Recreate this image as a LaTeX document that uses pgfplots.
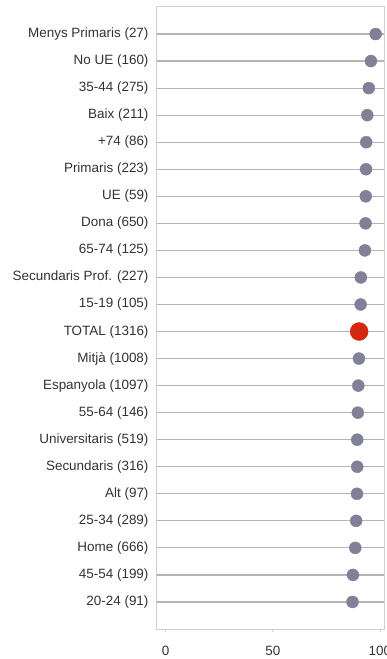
\documentclass[border=0pt]{standalone}
\usepackage{fontspec}
\setmainfont{Liberation Sans}
\usepackage{pgfplots}
\pgfplotsset{compat=1.18}
\definecolor{dotgray}{RGB}{128,128,150}
\definecolor{dotred}{RGB}{212,40,15}
\definecolor{linegray}{RGB}{180,180,180}
\definecolor{framegray}{RGB}{208,208,208}
\definecolor{txt}{RGB}{50,50,50}
\begin{document}
\begin{tikzpicture}[x=1bp,y=1bp]
\begin{axis}[at={(156bp,30bp)}, anchor=south west, scale only axis,
  width=228bp, height=622bp,
  xmin=-4.5, xmax=101.9, ymin=0, ymax=23,
  axis line style={framegray, line width=1bp},
  xtick={0,50,100}, xtick pos=bottom, xtick align=outside,
  major tick length=3bp, tick style={framegray, line width=0.8bp},
  ytick={1,...,22}, ytick pos=left, ytick style={draw=none},
  yticklabels={20-24 (91), 45-54 (199), Home (666), 25-34 (289), Alt (97), Secundaris (316), Universitaris (519), 55-64 (146), Espanyola (1097), Mitjà (1008), TOTAL (1316), 15-19 (105), Secundaris Prof. (227), 65-74 (125), Dona (650), UE (59), Primaris (223), +74 (86), Baix (211), 35-44 (275), No UE (160), Menys Primaris (27)},
  ymajorgrids, grid style={linegray, line width=1.2bp},
  ticklabel style={font=\fontsize{13.5}{15}\selectfont, text=txt},
  /pgf/number format/assume math mode=true,
  xticklabel style={yshift=-11bp},
  yticklabel style={xshift=-4bp},
  clip=false]
\addplot[only marks, mark=*, mark size=6bp, color=dotgray, mark options={draw=dotgray, fill=dotgray}] coordinates {
(98.0,22) (95.8,21) (94.8,20) (94.1,19) (93.6,18) (93.5,17) (93.4,16) (93.3,15) (93.0,14)
(91.1,13) (91.0,12) (90.2,10) (89.9,9) (89.7,8) (89.4,7) (89.4,6) (89.3,5) (88.9,4) (88.5,3) (87.4,2) (87.2,1)
};
\addplot[only marks, mark=*, mark size=9bp, color=dotred, mark options={draw=dotred, fill=dotred}] coordinates {(90.3,11)};
\end{axis}
\pgfresetboundingbox
\useasboundingbox (0,0) rectangle (387bp,659bp);
\end{tikzpicture}
\end{document}
